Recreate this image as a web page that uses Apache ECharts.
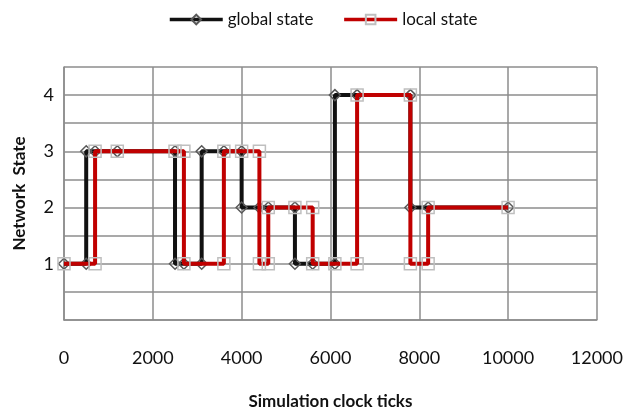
<!DOCTYPE html>
<html>
<head>
<meta charset="utf-8">
<script src="https://cdn.jsdelivr.net/npm/echarts@6/dist/echarts.min.js"></script>
<style>
  html, body { margin: 0; padding: 0; background: #fff; }
  #chart { width: 626px; height: 415px; }
</style>
</head>
<body>
<div id="chart"></div>
<script>
// step points: [tick, state]
const globalX = [0, 500, 500, 700, 1200, 2500, 2500, 2700, 3100, 3100, 3600, 4000, 4000, 4400, 4600, 5200, 5200, 5600, 6100, 6100, 6600, 7800, 7800, 8200, 10000];
const globalY = [1, 1, 3, 3, 3, 3, 1, 1, 1, 3, 3, 3, 2, 2, 2, 2, 1, 1, 1, 4, 4, 4, 2, 2, 2];
const localX = [0, 700, 700, 1200, 2500, 2700, 2700, 3600, 3600, 4000, 4400, 4400, 4600, 4600, 5200, 5600, 5600, 6100, 6600, 6600, 7800, 7800, 8200, 8200, 10000];
const localY = [1, 1, 3, 3, 3, 3, 1, 1, 3, 3, 3, 1, 1, 2, 2, 2, 1, 1, 1, 4, 4, 1, 1, 2, 2];
const yTickLabels = ['1', '2', '3', '4'];

const font = 'Lato, "Open Sans", sans-serif';
const gridColor = '#8c8c8c';

const chart = echarts.init(document.getElementById('chart'));

chart.setOption({
  animation: false,
  legend: {
    top: 6,
    left: 163,
    itemWidth: 53,
    itemHeight: 12,
    itemGap: 29,
    lineStyle: { width: 3.5 },
    textStyle: { fontFamily: font, fontSize: 17, color: '#111' },
    data: ['global state', 'local state']
  },
  grid: { left: 64, right: 28, top: 67, bottom: 92 },
  xAxis: {
    type: 'value',
    min: 0,
    max: 12000,
    interval: 2000,
    name: 'Simulation clock ticks',
    nameLocation: 'middle',
    nameGap: 73,
    nameTextStyle: { fontFamily: font, fontSize: 17, fontWeight: 'bold', color: '#111' },
    axisLine: { show: true, lineStyle: { color: gridColor, width: 1.5 } },
    axisTick: { show: false },
    axisLabel: { margin: 29, fontFamily: font, fontSize: 18, color: '#111', formatter: v => String(v) },
    splitLine: { show: true, lineStyle: { color: gridColor, width: 1.5 } }
  },
  yAxis: {
    type: 'value',
    min: 0,
    max: 4.5,
    interval: 0.5,
    name: 'Network  State',
    nameLocation: 'middle',
    nameGap: 36,
    nameTextStyle: { fontFamily: font, fontSize: 17, fontWeight: 'bold', color: '#111' },
    axisLine: { show: true, lineStyle: { color: gridColor, width: 1.5 } },
    axisTick: { show: false },
    axisLabel: {
      margin: 10,
      fontFamily: font,
      fontSize: 18,
      color: '#111',
      // only whole states get a label
      formatter: v => yTickLabels.includes(String(v)) ? String(v) : ''
    },
    splitLine: { show: true, lineStyle: { color: gridColor, width: 1.5 } }
  },
  series: [
    {
      name: 'global state',
      type: 'line',
      data: globalX.map((x, i) => [x, globalY[i]]),
      showAllSymbol: true,
      symbol: 'diamond',
      symbolSize: 11,
      lineStyle: { color: '#111', width: 4 },
      itemStyle: { color: 'rgba(0,0,0,0)', borderColor: '#595959', borderWidth: 1.5 },
      emphasis: { disabled: true },
      z: 2
    },
    {
      name: 'local state',
      type: 'line',
      data: localX.map((x, i) => [x, localY[i]]),
      showAllSymbol: true,
      symbol: 'rect',
      symbolSize: 12,
      lineStyle: { color: '#c00000', width: 4 },
      itemStyle: { color: 'rgba(0,0,0,0)', borderColor: '#bfbfbf', borderWidth: 1.5 },
      emphasis: { disabled: true },
      z: 3
    }
  ]
});
</script>
</body>
</html>
